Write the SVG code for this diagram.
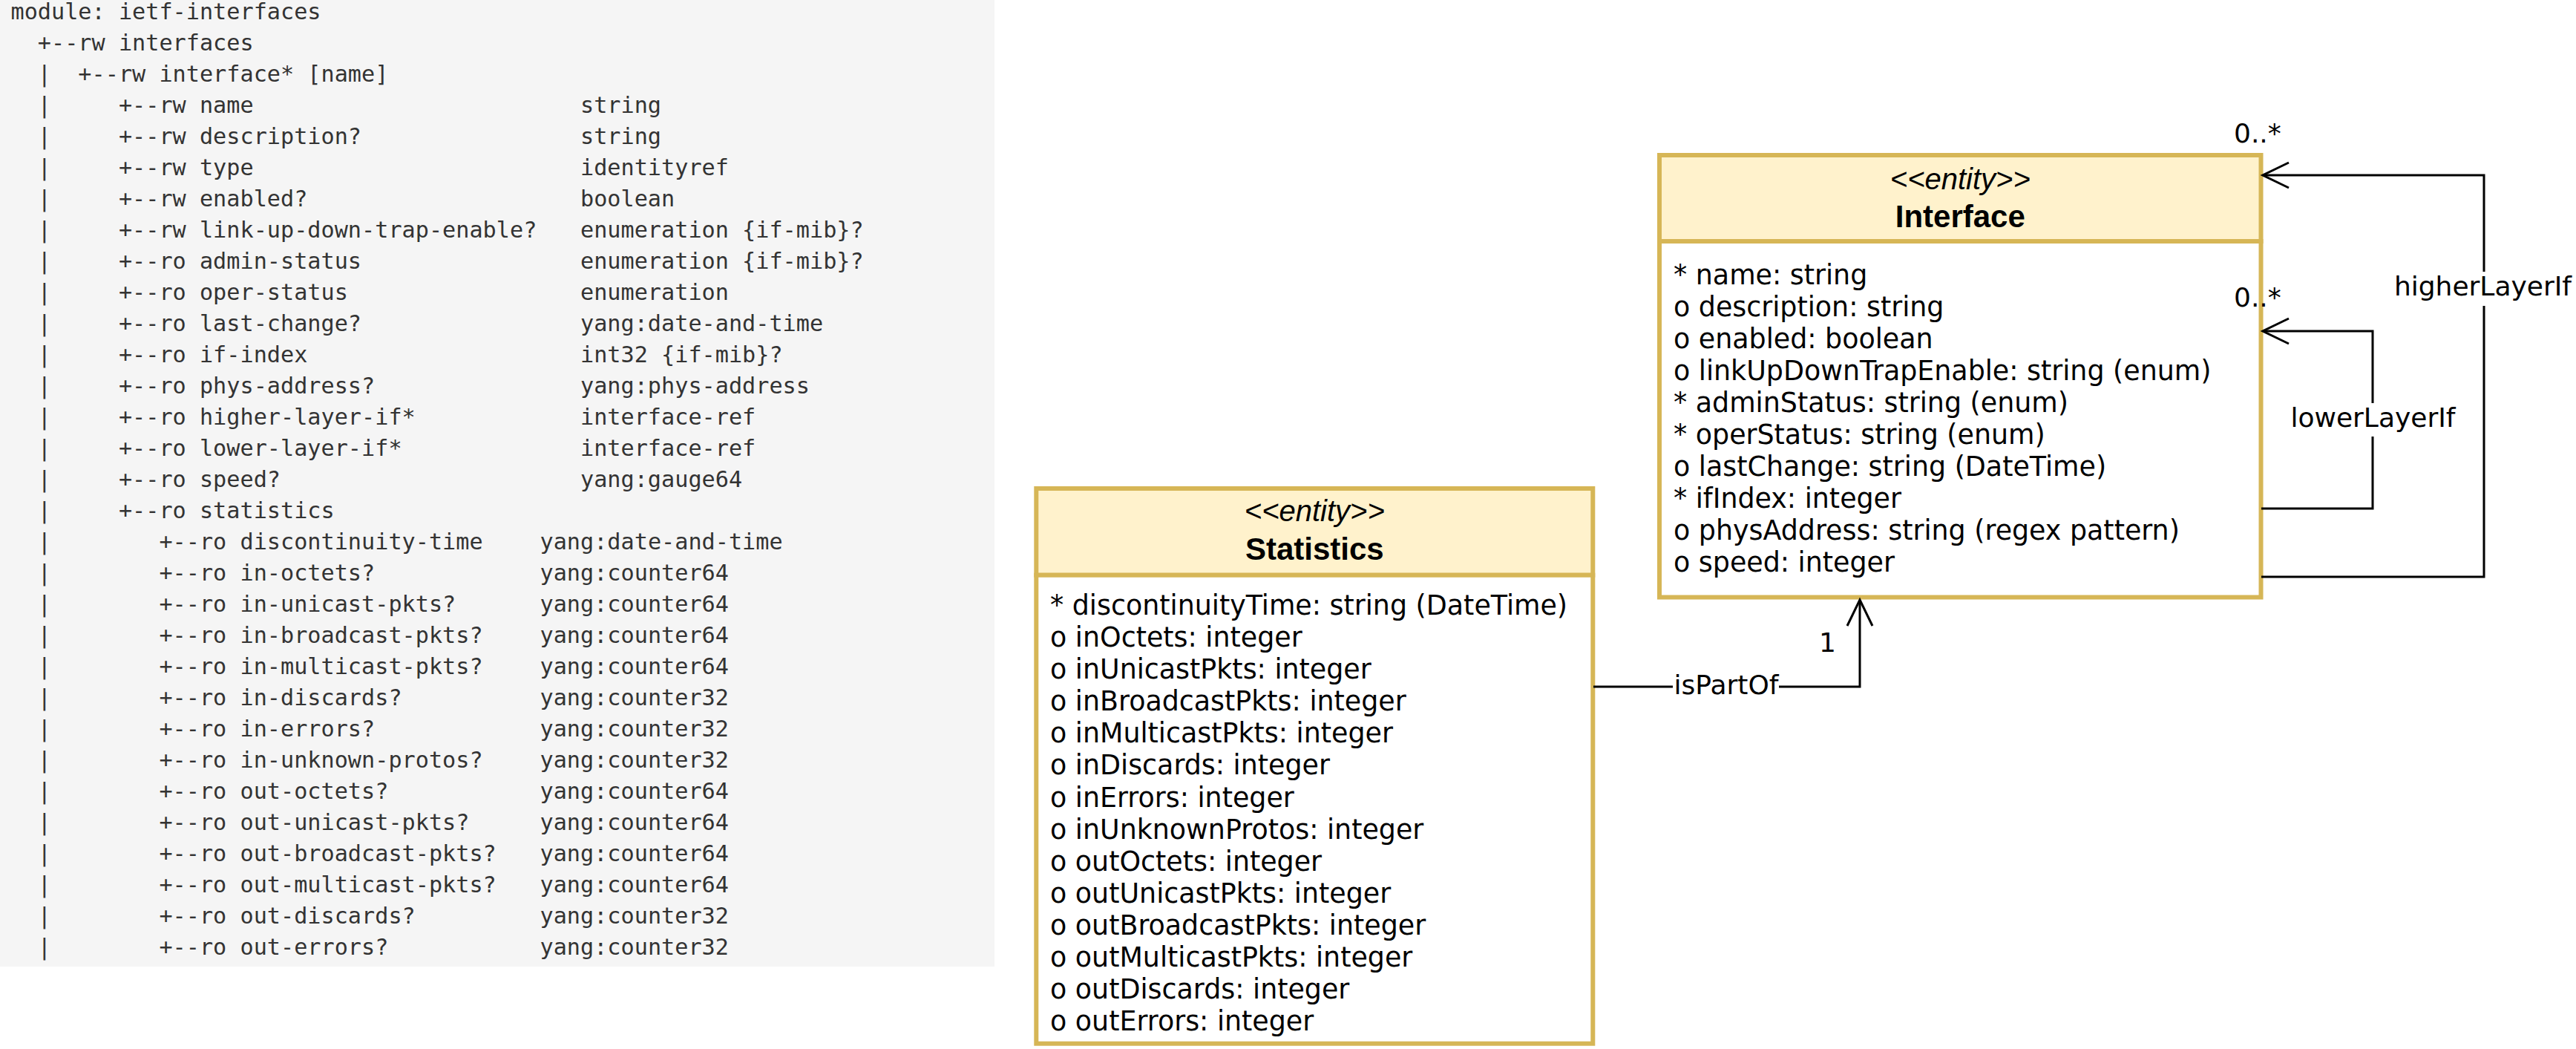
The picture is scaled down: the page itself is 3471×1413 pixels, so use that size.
<svg xmlns="http://www.w3.org/2000/svg" width="3471" height="1413" viewBox="0 0 3471 1413">
<style>
.mono{font-family:"DejaVu Sans Mono","Liberation Mono",monospace;font-size:30.2px;fill:#333333;white-space:pre}
.attr{font-family:"DejaVu Sans",Verdana,sans-serif;font-size:36.4px;fill:#000000}
.stereo{font-family:"Liberation Sans",Arial,sans-serif;font-style:italic;font-size:40px;text-anchor:middle;fill:#000000}
.title{font-family:"Liberation Sans",Arial,sans-serif;font-weight:bold;font-size:42px;text-anchor:middle;fill:#000000}
.hdr{fill:#FFF2CC;stroke:#D6B656;stroke-width:6}
.body{fill:#FFFFFF;stroke:#D6B656;stroke-width:6}
.edge{fill:none;stroke:#000000;stroke-width:3}
.lbl{font-family:"DejaVu Sans",Verdana,sans-serif;font-size:36px;fill:#000000}
.lblbg{fill:#FFFFFF;stroke:none}
</style>
<defs>
<marker id="open" viewBox="-40 -22 44 44" markerWidth="44" markerHeight="44" refX="0" refY="0" orient="auto" markerUnits="userSpaceOnUse">
<path d="M-35,-17 L0,0 L-35,17" fill="none" stroke="#000000" stroke-width="3"/>
</marker>
</defs>
<rect width="3471" height="1413" fill="#FFFFFF"/>
<g id="yang-tree">
<rect x="0" y="0" width="1340" height="1302" fill="#F5F5F5"/>
<text class="mono" xml:space="preserve" x="14.5" y="26">module: ietf-interfaces</text>
<text class="mono" xml:space="preserve" x="14.5" y="68">  +--rw interfaces</text>
<text class="mono" xml:space="preserve" x="14.5" y="110">  |  +--rw interface* [name]</text>
<text class="mono" xml:space="preserve" y="152"><tspan x="14.5">  |     +--rw name</tspan><tspan x="782">string</tspan></text>
<text class="mono" xml:space="preserve" y="194"><tspan x="14.5">  |     +--rw description?</tspan><tspan x="782">string</tspan></text>
<text class="mono" xml:space="preserve" y="236"><tspan x="14.5">  |     +--rw type</tspan><tspan x="782">identityref</tspan></text>
<text class="mono" xml:space="preserve" y="278"><tspan x="14.5">  |     +--rw enabled?</tspan><tspan x="782">boolean</tspan></text>
<text class="mono" xml:space="preserve" y="320"><tspan x="14.5">  |     +--rw link-up-down-trap-enable?</tspan><tspan x="782">enumeration {if-mib}?</tspan></text>
<text class="mono" xml:space="preserve" y="362"><tspan x="14.5">  |     +--ro admin-status</tspan><tspan x="782">enumeration {if-mib}?</tspan></text>
<text class="mono" xml:space="preserve" y="404"><tspan x="14.5">  |     +--ro oper-status</tspan><tspan x="782">enumeration</tspan></text>
<text class="mono" xml:space="preserve" y="446"><tspan x="14.5">  |     +--ro last-change?</tspan><tspan x="782">yang:date-and-time</tspan></text>
<text class="mono" xml:space="preserve" y="488"><tspan x="14.5">  |     +--ro if-index</tspan><tspan x="782">int32 {if-mib}?</tspan></text>
<text class="mono" xml:space="preserve" y="530"><tspan x="14.5">  |     +--ro phys-address?</tspan><tspan x="782">yang:phys-address</tspan></text>
<text class="mono" xml:space="preserve" y="572"><tspan x="14.5">  |     +--ro higher-layer-if*</tspan><tspan x="782">interface-ref</tspan></text>
<text class="mono" xml:space="preserve" y="614"><tspan x="14.5">  |     +--ro lower-layer-if*</tspan><tspan x="782">interface-ref</tspan></text>
<text class="mono" xml:space="preserve" y="656"><tspan x="14.5">  |     +--ro speed?</tspan><tspan x="782">yang:gauge64</tspan></text>
<text class="mono" xml:space="preserve" x="14.5" y="698">  |     +--ro statistics</text>
<text class="mono" xml:space="preserve" y="740"><tspan x="14.5">  |        +--ro discontinuity-time</tspan><tspan x="727.5">yang:date-and-time</tspan></text>
<text class="mono" xml:space="preserve" y="782"><tspan x="14.5">  |        +--ro in-octets?</tspan><tspan x="727.5">yang:counter64</tspan></text>
<text class="mono" xml:space="preserve" y="824"><tspan x="14.5">  |        +--ro in-unicast-pkts?</tspan><tspan x="727.5">yang:counter64</tspan></text>
<text class="mono" xml:space="preserve" y="866"><tspan x="14.5">  |        +--ro in-broadcast-pkts?</tspan><tspan x="727.5">yang:counter64</tspan></text>
<text class="mono" xml:space="preserve" y="908"><tspan x="14.5">  |        +--ro in-multicast-pkts?</tspan><tspan x="727.5">yang:counter64</tspan></text>
<text class="mono" xml:space="preserve" y="950"><tspan x="14.5">  |        +--ro in-discards?</tspan><tspan x="727.5">yang:counter32</tspan></text>
<text class="mono" xml:space="preserve" y="992"><tspan x="14.5">  |        +--ro in-errors?</tspan><tspan x="727.5">yang:counter32</tspan></text>
<text class="mono" xml:space="preserve" y="1034"><tspan x="14.5">  |        +--ro in-unknown-protos?</tspan><tspan x="727.5">yang:counter32</tspan></text>
<text class="mono" xml:space="preserve" y="1076"><tspan x="14.5">  |        +--ro out-octets?</tspan><tspan x="727.5">yang:counter64</tspan></text>
<text class="mono" xml:space="preserve" y="1118"><tspan x="14.5">  |        +--ro out-unicast-pkts?</tspan><tspan x="727.5">yang:counter64</tspan></text>
<text class="mono" xml:space="preserve" y="1160"><tspan x="14.5">  |        +--ro out-broadcast-pkts?</tspan><tspan x="727.5">yang:counter64</tspan></text>
<text class="mono" xml:space="preserve" y="1202"><tspan x="14.5">  |        +--ro out-multicast-pkts?</tspan><tspan x="727.5">yang:counter64</tspan></text>
<text class="mono" xml:space="preserve" y="1244"><tspan x="14.5">  |        +--ro out-discards?</tspan><tspan x="727.5">yang:counter32</tspan></text>
<text class="mono" xml:space="preserve" y="1286"><tspan x="14.5">  |        +--ro out-errors?</tspan><tspan x="727.5">yang:counter32</tspan></text>
</g>
<g id="node-interface">
<rect class="hdr" x="2236" y="209" width="810.5" height="116"/>
<rect class="body" x="2236" y="325" width="810.5" height="479.5"/>
<text class="stereo" x="2641.3" y="255">&lt;&lt;entity&gt;&gt;</text>
<text class="title" x="2641.3" y="306">Interface</text>
<text class="attr" x="2255" y="383">* name: string</text>
<text class="attr" x="2255" y="426">o description: string</text>
<text class="attr" x="2255" y="469">o enabled: boolean</text>
<text class="attr" x="2255" y="512">o linkUpDownTrapEnable: string (enum)</text>
<text class="attr" x="2255" y="555">* adminStatus: string (enum)</text>
<text class="attr" x="2255" y="598">* operStatus: string (enum)</text>
<text class="attr" x="2255" y="641">o lastChange: string (DateTime)</text>
<text class="attr" x="2255" y="684">* ifIndex: integer</text>
<text class="attr" x="2255" y="727">o physAddress: string (regex pattern)</text>
<text class="attr" x="2255" y="770">o speed: integer</text>
</g>
<g id="node-statistics">
<rect class="hdr" x="1396.3" y="658" width="750" height="116.7"/>
<rect class="body" x="1396.3" y="774.7" width="750" height="631"/>
<text class="stereo" x="1771.3" y="701.7">&lt;&lt;entity&gt;&gt;</text>
<text class="title" x="1771.3" y="754.3">Statistics</text>
<text class="attr" x="1415" y="828">* discontinuityTime: string (DateTime)</text>
<text class="attr" x="1415" y="871.1">o inOctets: integer</text>
<text class="attr" x="1415" y="914.2">o inUnicastPkts: integer</text>
<text class="attr" x="1415" y="957.2">o inBroadcastPkts: integer</text>
<text class="attr" x="1415" y="1000.3">o inMulticastPkts: integer</text>
<text class="attr" x="1415" y="1043.4">o inDiscards: integer</text>
<text class="attr" x="1415" y="1086.5">o inErrors: integer</text>
<text class="attr" x="1415" y="1129.6">o inUnknownProtos: integer</text>
<text class="attr" x="1415" y="1172.6">o outOctets: integer</text>
<text class="attr" x="1415" y="1215.7">o outUnicastPkts: integer</text>
<text class="attr" x="1415" y="1258.8">o outBroadcastPkts: integer</text>
<text class="attr" x="1415" y="1301.9">o outMulticastPkts: integer</text>
<text class="attr" x="1415" y="1344.9">o outDiscards: integer</text>
<text class="attr" x="1415" y="1388">o outErrors: integer</text>
</g>
<g id="connectors">
<path class="edge" d="M3047,777 L3347,777 L3347,236 L3049,236" marker-end="url(#open)"/>
<path class="edge" d="M3047,685 L3197,685 L3197,446 L3049,446" marker-end="url(#open)"/>
<path class="edge" d="M2147,925 L2506,925 L2506,808" marker-end="url(#open)"/>
<rect class="lblbg" x="3226" y="366" width="240" height="46"/>
<text class="lbl" x="3345.5" y="398" text-anchor="middle">higherLayerIf</text>
<rect class="lblbg" x="3086" y="543" width="224" height="45"/>
<text class="lbl" x="3197.5" y="575" text-anchor="middle">lowerLayerIf</text>
<rect class="lblbg" x="2254" y="900" width="143" height="45"/>
<text class="lbl" x="2326" y="935" text-anchor="middle">isPartOf</text>
<text class="lbl" x="3010" y="192">0..*</text>
<text class="lbl" x="3010" y="413">0..*</text>
<text class="lbl" x="2451" y="878">1</text>
</g>
</svg>
